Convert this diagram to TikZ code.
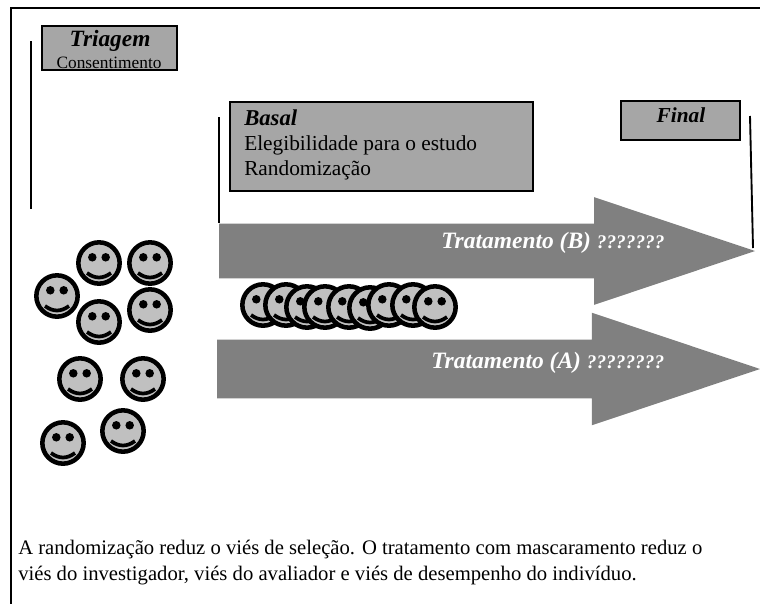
\documentclass[tikz,border=0pt]{standalone}
\usepackage{fontspec}
\setmainfont{Liberation Serif}
\usetikzlibrary{shapes, positioning}
\definecolor{boxgray}{HTML}{A6A6A6}
\definecolor{arrowgray}{HTML}{808080}
\definecolor{facegray}{HTML}{C0C0C0}
\tikzset{
  stagebox/.style = {rectangle, draw=black, line width=1.2pt, fill=boxgray, inner sep=0pt, outer sep=0pt, anchor=north west},
  stagetitle/.style = {inner sep=0pt, font=\fontsize{17.5}{19}\selectfont\bfseries\itshape},
  timeline/.style = {draw=black, line width=1.4pt},
  treatarrow/.style = {single arrow, fill=arrowgray, inner xsep=0pt, outer sep=0pt, single arrow tip angle=37, anchor=tail},
  treatlabel/.style = {text=white, inner sep=0pt, anchor=west, font=\fontsize{17.6}{19}\selectfont\bfseries\itshape},
  boxtext/.style = {align=left, inner sep=0pt, anchor=north west, font=\fontsize{16}{18.75}\selectfont},
  captiontext/.style = {align=left, inner sep=0pt, anchor=west, font=\fontsize{15.5}{19.5}\selectfont},
  faceshape/.style = {circle, draw=black, line width=3.4pt, fill=facegray, minimum size=31pt, inner sep=0pt, outer sep=0pt},
  smiley/.pic = {
    \node (-head) [faceshape] {};
    \fill[black] (-6.7,-5.7) circle (3.2pt);
    \fill[black] (6.7,-5.7) circle (3.2pt);
    \draw[black, line width=2.8pt] (-12,10) .. controls (-4,16) and (4,16) .. (12,10);
  }
}
\begin{document}
\begin{tikzpicture}[x=0.75pt, y=-0.75pt]
  \useasboundingbox (0,0) rectangle (760,604);

  % Outer frame
  \coordinate (frametr) at (760,8);
  \coordinate (frametl) at (11,8);
  \coordinate (framebl) at (11,604);
  \draw[line width=1.5pt, black] (frametr) -- (frametl) -- (framebl);

  % Treatment arrows
  \node (arrowb) [treatarrow, inner ysep=20.25pt, minimum height=402pt, single arrow head extend=19.9pt] at (219,251) {};
  \node (arrowa) [treatarrow, inner ysep=21.75pt, minimum height=407.25pt, single arrow head extend=20.25pt] at (217,369) {};
  \node (labelb) [treatlabel] at (441,243) {Tratamento (B) {\fontsize{14.5}{16}\selectfont ???????}};
  \node (labela) [treatlabel] at (431,363) {Tratamento (A) {\fontsize{14.5}{16}\selectfont ????????}};

  % Stage boxes
  \node (triagem) [stagebox, minimum width=101.25pt, minimum height=33pt] at (42,26) {};
  \node (triagemtitle) [stagetitle] at (110,41) {Triagem};
  \node (triagemtext) [inner sep=0pt, font=\fontsize{13}{13}\selectfont] at (109,63) {Consentimento};
  \node (basal) [stagebox, minimum width=227.25pt, minimum height=66.75pt] at (230,102) {};
  \node (basaltext) [boxtext] at (244,109.5) {{\fontsize{17}{19}\selectfont\bfseries\itshape Basal}\\Elegibilidade para o estudo\\Randomização};
  \node (final) [stagebox, minimum width=89.25pt, minimum height=29.25pt] at (621,101) {};
  \node (finaltitle) [stagetitle, font=\fontsize{16}{18}\selectfont\bfseries\itshape] at (681,115) {Final};

  % Time lines
  \coordinate (triagemtop) at (31,41);
  \coordinate (triagemend) at (31,209);
  \coordinate (basaltop) at (219,117);
  \coordinate (basalend) at (219,223);
  \coordinate (finaltop) at (750,116);
  \coordinate (finalend) at (753,248);
  \draw[timeline] (triagemtop) -- (triagemend);
  \draw[timeline] (basaltop) -- (basalend);
  \draw[timeline] (finaltop) -- (finalend);

  % Screened group
  \pic (facea) at (99,263) {smiley};
  \pic (faceb) at (150,263) {smiley};
  \pic (facec) at (57,296) {smiley};
  \pic (faced) at (99,322) {smiley};
  \pic (facee) at (150,310) {smiley};
  \pic (facef) at (80,379) {smiley};
  \pic (faceg) at (143,379) {smiley};
  \pic (faceh) at (63,443) {smiley};
  \pic (facei) at (123,431) {smiley};

  % Randomized row
  \pic (rowa) at (263,305) {smiley};
  \pic (rowb) at (286,305) {smiley};
  \pic (rowc) at (307,307) {smiley};
  \pic (rowd) at (325,307) {smiley};
  \pic (rowe) at (349,307) {smiley};
  \pic (rowf) at (370,308) {smiley};
  \pic (rowg) at (389,305) {smiley};
  \pic (rowh) at (413,305) {smiley};
  \pic (rowi) at (435,307) {smiley};

  % Caption
  \node (caption) [captiontext] at (18,563) {A randomização reduz o viés de seleção. O tratamento com mascaramento reduz o\\viés do investigador, viés do avaliador e viés de desempenho do indivíduo.};
\end{tikzpicture}
\end{document}
